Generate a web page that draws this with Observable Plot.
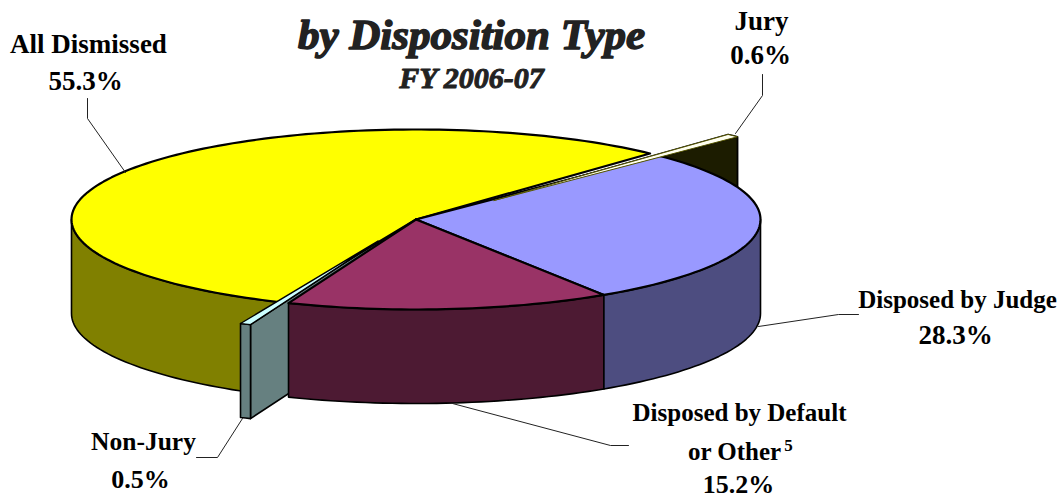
<!DOCTYPE html>
<html><head><meta charset="utf-8">
<script src="https://cdn.jsdelivr.net/npm/d3@7"></script>
<script src="https://cdn.jsdelivr.net/npm/@observablehq/plot@0.6"></script>
<style>html,body{margin:0;padding:0;background:#fff}svg{display:block}</style>
</head><body><div id="chart"></div>
<script>
// ---- data ----
const categories = ["Jury","Disposed by Judge","Disposed by Default or Other","Non-Jury","All Dismissed"];
const shares = [0.6,28.3,15.2,0.5,55.3];
const shareLabels = ["0.6%","28.3%","15.2%","0.5%","55.3%"];
const titleText = "by Disposition Type";
const subtitleText = "FY 2006-07";

// ---- styles ----
const topColors  = ["#fffff0","#9999ff","#993366","#ccffff","#ffff00"];
const wallColors = ["#1c1c00","#4d4d80","#4d1a33","#668080","#808000"];

// ---- pie geometry ----
const cx=415.5, cy=219, rx=344.5, ry=90, depth=94, startDeg=-47.2;
const explode = {"Jury":[78,-19],"Non-Jury":[-38,21.5]};
const total = d3.sum(shares);
let acc = startDeg;
const slices = categories.map((name,i)=>{
  const a0=acc; acc+=shares[i]/total*360;
  return {name,a0,a1:acc,off:explode[name]||[0,0],top:topColors[i],wall:wallColors[i]};
});
const S = Object.fromEntries(slices.map(s=>[s.name,s]));
const pt=(s,deg,dy=0)=>{const t=deg*Math.PI/180;return {x:cx+s.off[0]+rx*Math.cos(t),y:cy+s.off[1]+dy+ry*Math.sin(t)}};
const apex=(s,dy=0)=>({x:cx+s.off[0],y:cy+s.off[1]+dy});
const arc=(s,a,b,dy=0)=>{const n=Math.max(2,Math.ceil(Math.abs(b-a)/1.5));return d3.range(n+1).map(i=>pt(s,a+(b-a)*i/n,dy))};
const closed=p=>[...p,p[0]];
const poly=(p,fill,sw=1.6,stroke="#000")=>Plot.line(closed(p),{x:"x",y:"y",fill,stroke,strokeWidth:sw,strokeLinejoin:"round",curve:"linear"});
const topFace=s=>poly([apex(s),...arc(s,s.a0,s.a1)],s.top,2.2);
const outerWall=(s,a,b)=>poly([...arc(s,a,b),...arc(s,b,a,depth)],s.wall);
const radialWall=(s,deg)=>poly([apex(s),pt(s,deg),pt(s,deg,depth),apex(s,depth)],s.wall);

const J=S["Jury"],B=S["Disposed by Judge"],D=S["Disposed by Default or Other"],N=S["Non-Jury"],Y=S["All Dismissed"];

// ---- annotation layout ----
const leaders=[
 [[87,98],[87,118],[125,172]],
 [[762,74],[762,95],[735,133]],
 [[758,326],[838,314],[858,314]],
 [[452,403],[610,445],[628,445]],
 [[242,418],[217,457],[196,457]]
].map(p=>p.map(([x,y])=>({x,y})));
const labelRows=[
 {t:"All Dismissed",x:88,y:52,s:27},{t:shareLabels[4],x:85,y:89,s:27},
 {t:"Jury",x:761,y:29,s:27},{t:shareLabels[0],x:760,y:63,s:27},
 {t:"Disposed by Judge",x:957,y:307,s:25},{t:shareLabels[1],x:955,y:343,s:27},
 {t:"Disposed by Default",x:739,y:420,s:25},{t:"or Other",x:734,y:459,s:25},{t:shareLabels[2],x:738,y:492,s:26},
 {t:"Non-Jury",x:143,y:449,s:25.5},{t:shareLabels[3],x:140,y:487,s:26}
];
const font="Liberation Serif";

const chart=Plot.plot({
  width:1062,height:498,margin:0,
  x:{domain:[0,1062],range:[0,1062],axis:null},
  y:{domain:[0,498],range:[0,498],axis:null},
  style:{background:"#fff"},
  marks:[
    radialWall(J,J.a0), outerWall(J,J.a0,J.a1), radialWall(J,J.a1),
    outerWall(Y,113.4,180),
    radialWall(N,N.a0),
    outerWall(D,D.a0,D.a1),
    outerWall(B,0,B.a1),
    outerWall(N,N.a0,N.a1),
    topFace(Y), topFace(B), topFace(D),
    poly([apex(J),...arc(J,J.a0,J.a1)],J.top,1,"#555500"),
    poly([apex(N),...arc(N,N.a0,N.a1)],N.top,1.4),
    ...leaders.map(p=>Plot.line(p,{x:"x",y:"y",stroke:"#222",strokeWidth:1,curve:"linear"})),
    ...labelRows.map(r=>Plot.text([r.t],{x:[r.x],y:[r.y],fontFamily:font,fontWeight:"bold",fontSize:r.s,lineAnchor:"bottom",fill:"#000"})),
    Plot.text(["5"],{x:[788],y:[450],fontFamily:font,fontWeight:"bold",fontSize:17,lineAnchor:"bottom",fill:"#000"}),
    Plot.text([titleText],{x:[471],y:[48],fontFamily:font,fontWeight:"bold",fontStyle:"italic",fontSize:43,lineAnchor:"bottom",fill:"#222",stroke:"#222",strokeWidth:1.5}),
    Plot.text([subtitleText],{x:[471],y:[87],fontFamily:font,fontWeight:"bold",fontStyle:"italic",fontSize:30,lineAnchor:"bottom",fill:"#222",stroke:"#222",strokeWidth:1})
  ]
});
document.getElementById("chart").append(chart);
</script></body></html>
